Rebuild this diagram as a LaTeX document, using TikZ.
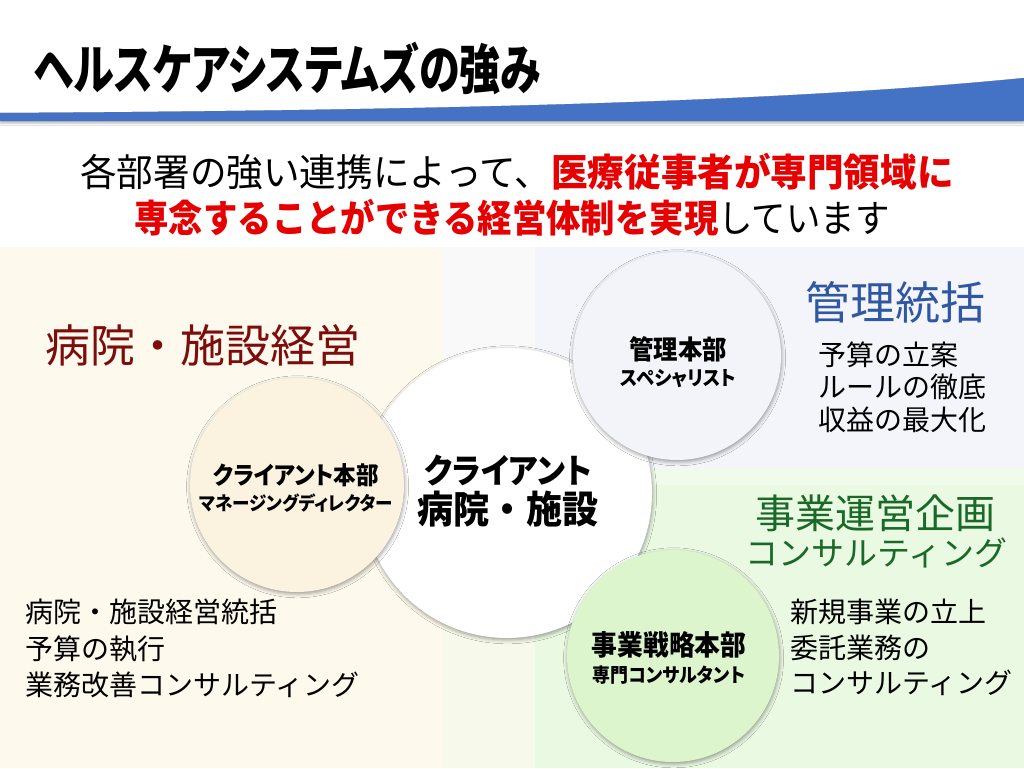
\documentclass[tikz,border=0pt]{standalone}
\usepackage{fontspec}
\usetikzlibrary{shadows.blur}
\newfontfamily\ttlfont{Noto Sans CJK JP}[FakeStretch=0.76, RawFeature=+palt]
\newfontfamily\subfont{Noto Sans CJK JP}[FakeStretch=0.963]
\newfontfamily\subfontb{Noto Sans CJK JP}[FakeStretch=0.905]
\newfontfamily\jpfont{Noto Sans CJK JP}
\newfontfamily\cirfont{Noto Sans CJK JP}[FakeStretch=0.92, RawFeature=+palt]
\newfontfamily\cirfontw{Noto Sans CJK JP}[FakeStretch=0.95]
\definecolor{cream}{RGB}{253,249,236}
\definecolor{greybg}{RGB}{244,245,250}
\definecolor{greenbg}{RGB}{234,249,226}
\definecolor{greenband}{RGB}{241,251,236}
\definecolor{striptop}{RGB}{250,249,249}
\definecolor{stripbot}{RGB}{247,250,234}
\definecolor{ccream}{RGB}{251,243,224}
\definecolor{cgrey}{RGB}{243,244,249}
\definecolor{cgreen}{RGB}{220,245,205}
\definecolor{swoosh}{RGB}{68,114,196}
\definecolor{hdred}{RGB}{125,12,12}
\definecolor{hdblue}{RGB}{47,87,162}
\definecolor{hdgreen}{RGB}{25,105,40}
\definecolor{emred}{RGB}{230,0,0}
\tikzset{
  bubble/.style={circle, inner sep=0pt, draw=none,
    blur shadow={shadow blur radius=4pt, shadow xshift=0.6pt, shadow yshift=-1.8pt, shadow opacity=40}},
  ctext/.style={inner sep=0pt, align=center, text=black},
  heading/.style={inner sep=0pt},
  listtext/.style={inner sep=0pt, anchor=west, align=left, text=black}
}
\begin{document}
\begin{tikzpicture}[x=1pt, y=-1pt]
\useasboundingbox (0,0) rectangle (1024,768);
\fill[white] (0,0) rectangle (1024,768);
% background panels
\fill[cream] (0,247) rectangle (442,768);
\fill[striptop] (442,247) rectangle (535,468);
\fill[stripbot] (442,468) rectangle (535,768);
\fill[greybg] (535,247) rectangle (1024,468);
\fill[greenband] (535,468) rectangle (1024,485);
\fill[greenbg] (535,485) rectangle (1024,768);
% blue swoosh
\fill[swoosh, blur shadow={shadow blur radius=2pt, shadow xshift=0pt, shadow yshift=-2pt, shadow opacity=30}]
  (0,113) .. controls (500,110) and (800,100) .. (1024,78) -- (1024,121) -- (0,121) -- cycle;
% title
\node[heading, anchor=west] (title) at (34,68)
  {\ttlfont\bfseries\fontsize{54}{54}\selectfont ヘルスケアシステムズの強み};
% subtitle
\node[heading] (sub1) at (517,172)
  {\subfont\fontsize{38}{38}\selectfont 各部署の強い連携によって、{\bfseries\color{emred}医療従事者が専門領域に}};
\node[heading] (sub2) at (512,218)
  {\subfontb\fontsize{38}{38}\selectfont {\bfseries\color{emred}専念することができる経営体制を実現}しています};
% circles
\node[bubble, fill=white, minimum size=290pt] (clientC) at (507,493) {};
\node[bubble, fill=ccream, minimum size=214pt] (hqC) at (297,485) {};
\node[bubble, fill=cgrey, minimum size=208pt] (adminC) at (677,356) {};
\node[bubble, fill=cgreen, minimum size=212pt] (bizC) at (673,656) {};
% circle texts
\node[ctext, font={\fontsize{34}{40}\selectfont}] (clientT) at (508,491)
  {\cirfont\bfseries クライアント\\\cirfontw\bfseries\fontsize{38}{40}\selectfont 病院・施設};
\node[ctext, font={\fontsize{24.5}{26}\selectfont}] (hqT) at (296,488)
  {\cirfont\bfseries クライアント本部\\\cirfont\bfseries\fontsize{19}{26}\selectfont マネージングディレクター};
\node[ctext, font={\fontsize{26.5}{26.5}\selectfont}] (adminT) at (678,362)
  {\cirfont\bfseries 管理本部\\\cirfont\bfseries\fontsize{20}{26.5}\selectfont スペシャリスト};
\node[ctext, font={\fontsize{28}{26.5}\selectfont}] (bizT) at (669,658)
  {\cirfont\bfseries 事業戦略本部\\\cirfont\bfseries\fontsize{19.5}{26.5}\selectfont 専門コンサルタント};
% headings
\node[heading, text=hdred] (hospH) at (203,345) {\jpfont\fontsize{45}{45}\selectfont 病院・施設経営};
\node[heading, text=hdblue] (adminH) at (895,302) {\jpfont\fontsize{45}{45}\selectfont 管理統括};
\node[heading, text=hdgreen] (bizH) at (875,513) {\jpfont\fontsize{40}{40}\selectfont 事業運営企画};
\node[heading, text=hdgreen] (bizH2) at (876,553) {\jpfont\fontsize{33}{33}\selectfont コンサルティング};
% lists
\node[listtext, font={\jpfont\fontsize{28}{32.5}\selectfont}] (adminL) at (818,387)
  {予算の立案\\ルールの徹底\\収益の最大化};
\node[listtext, font={\jpfont\fontsize{28}{35.5}\selectfont}] (bizL) at (790,647.5)
  {新規事業の立上\\委託業務の\\コンサルティング};
\node[listtext, font={\jpfont\fontsize{28}{36.5}\selectfont}] (hospL) at (25,648.5)
  {病院・施設経営統括\\予算の執行\\業務改善コンサルティング};
\end{tikzpicture}
\end{document}
